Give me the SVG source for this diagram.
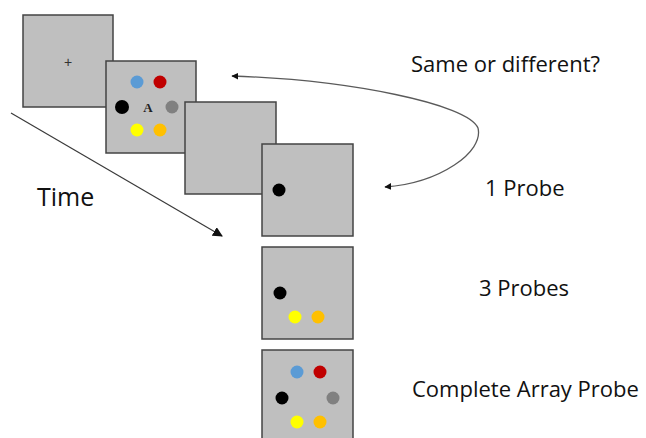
<svg xmlns="http://www.w3.org/2000/svg" width="646" height="438" viewBox="0 0 646 438">
  <style>
    .frame { fill: #bfbfbf; stroke: #444444; stroke-width: 1.5; }
    .lbl { font-family: "Open Sans", "Noto Sans", sans-serif; fill: #111111; }
    .conn { fill: none; stroke: #3a3a3a; stroke-width: 1.2; }
    .curve { fill: none; stroke: #5a5a5a; stroke-width: 1.3; }
  </style>
  <defs>
    <marker id="tri" viewBox="0 0 10 10" refX="9" refY="5" markerWidth="7" markerHeight="7" markerUnits="userSpaceOnUse" orient="auto-start-reverse">
      <path d="M0,0 L10,5 L0,10 Z" fill="#111111"/>
    </marker>
    <marker id="triBig" viewBox="0 0 10 10" refX="9" refY="5" markerWidth="10" markerHeight="10" markerUnits="userSpaceOnUse" orient="auto">
      <path d="M0,0 L10,5 L0,10 Z" fill="#111111"/>
    </marker>
  </defs>

  <!-- fixation screen -->
  <g id="fixation">
    <rect class="frame" x="23" y="15" width="90" height="92"/>
    <text x="68" y="67" font-family="Liberation Sans, sans-serif" font-size="14" text-anchor="middle" fill="#333">+</text>
  </g>

  <!-- memory array -->
  <g id="memory-array">
    <rect class="frame" x="106" y="61" width="90" height="92"/>
    <circle cx="137" cy="82" r="6.5" fill="#5b9bd5"/>
    <circle cx="160" cy="82" r="6.5" fill="#c00000"/>
    <circle cx="122" cy="107" r="7" fill="#000000"/>
    <circle cx="172" cy="107" r="6.5" fill="#808080"/>
    <circle cx="137" cy="130" r="6.5" fill="#ffff00"/>
    <circle cx="160" cy="130" r="6.5" fill="#ffc000"/>
    <text x="148" y="112" font-family="Liberation Serif, serif" font-size="13" font-weight="bold" text-anchor="middle" fill="#222">A</text>
  </g>

  <!-- blank retention interval -->
  <g id="blank">
    <rect class="frame" x="185" y="102" width="91" height="92"/>
  </g>

  <!-- probe: single item -->
  <g id="probe-1">
    <rect class="frame" x="262" y="144" width="91" height="92"/>
    <circle cx="279" cy="190" r="6.5" fill="#000000"/>
  </g>

  <!-- probe: three items -->
  <g id="probe-3">
    <rect class="frame" x="262" y="247" width="91" height="92"/>
    <circle cx="280" cy="293" r="6.5" fill="#000000"/>
    <circle cx="295" cy="317" r="6.5" fill="#ffff00"/>
    <circle cx="318" cy="317" r="6.5" fill="#ffc000"/>
  </g>

  <!-- probe: whole array -->
  <g id="probe-all">
    <rect class="frame" x="262" y="350" width="91" height="92"/>
    <circle cx="297" cy="372" r="6.5" fill="#5b9bd5"/>
    <circle cx="320" cy="372" r="6.5" fill="#c00000"/>
    <circle cx="282" cy="398" r="6.5" fill="#000000"/>
    <circle cx="333" cy="398" r="6.5" fill="#808080"/>
    <circle cx="297" cy="422" r="6.5" fill="#ffff00"/>
    <circle cx="320" cy="422" r="6.5" fill="#ffc000"/>
  </g>

  <!-- connectors -->
  <g id="connectors">
    <line class="conn" x1="11" y1="113" x2="222" y2="236" marker-end="url(#triBig)"/>
    <path class="curve" d="M232,76 C350,80 468,104 478,128 C484,152 440,183 385,187" marker-start="url(#tri)" marker-end="url(#tri)"/>
  </g>

  <!-- labels -->
  <g id="labels">
    <text class="lbl" x="37" y="206" font-size="25">Time</text>
    <text class="lbl" x="411" y="72" font-size="22">Same or different?</text>
    <text class="lbl" x="485" y="196" font-size="22">1 Probe</text>
    <text class="lbl" x="479" y="296" font-size="22">3 Probes</text>
    <text class="lbl" x="412" y="397" font-size="22">Complete Array Probe</text>
  </g>
</svg>
